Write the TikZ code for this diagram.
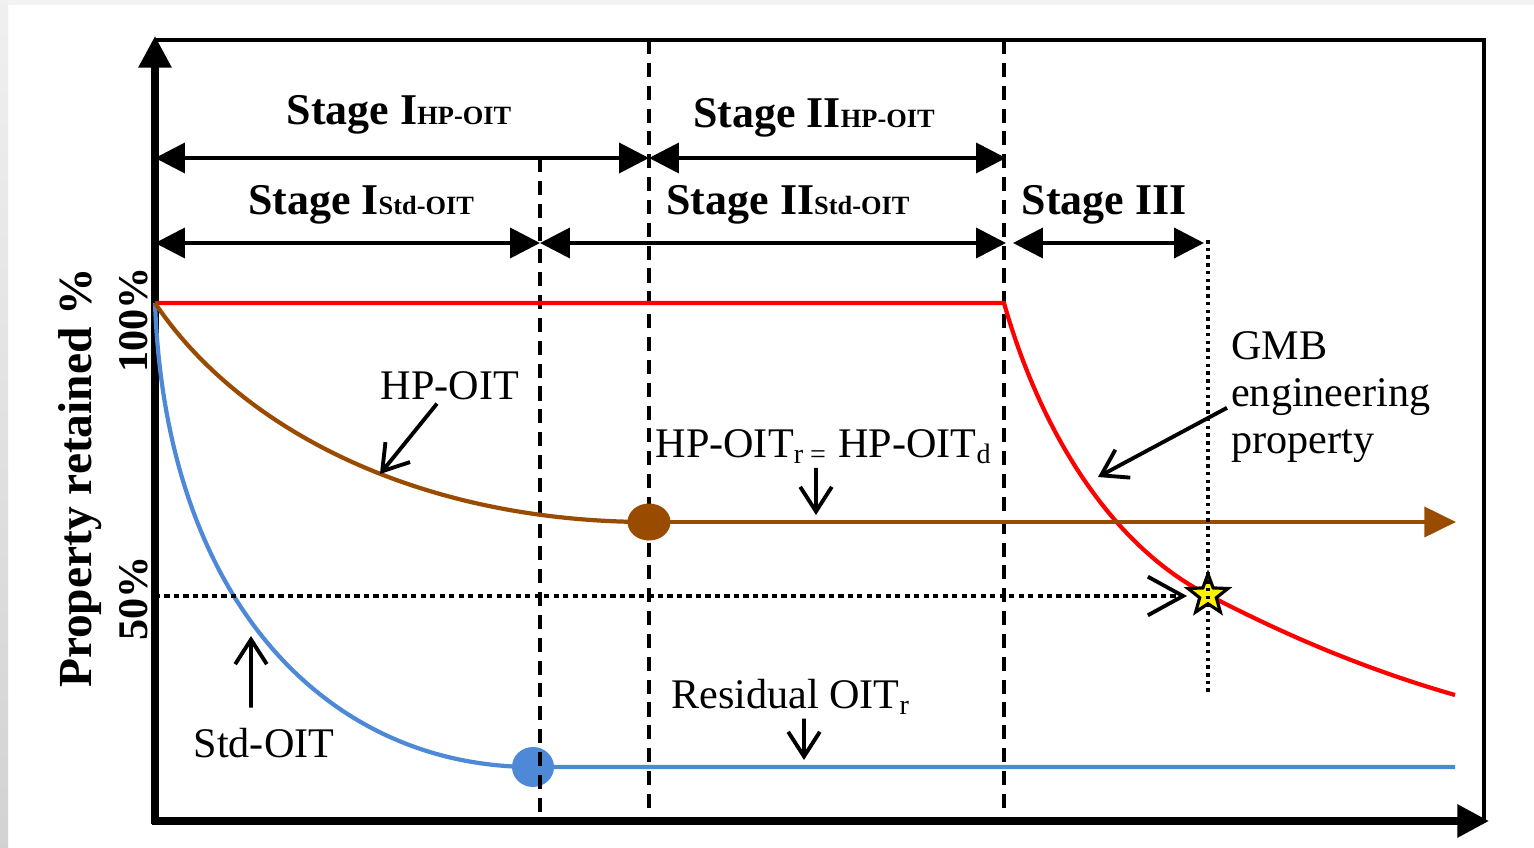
\documentclass[tikz,border=0pt]{standalone}
\usepackage{fontspec}
\setmainfont{Liberation Serif}
\usetikzlibrary{arrows.meta}
\usetikzlibrary{shapes.geometric}

\definecolor{hpbrown}{RGB}{153,76,0}
\definecolor{stdblue}{RGB}{77,137,214}
\definecolor{gmbred}{RGB}{255,0,0}

\newcommand{\subtag}[1]{{\fontsize{7.5}{8}\selectfont #1}}

\begin{document}
\begin{tikzpicture}[x=0.1mm,y=-0.1mm,
    stagelab/.style={font=\fontsize{12.5}{14}\selectfont\bfseries, inner sep=1pt, anchor=base},
    notelab/.style={font=\fontsize{12}{13.4}\selectfont, inner sep=1pt, anchor=base},
    ticklab/.style={rotate=90, anchor=base, inner sep=0pt},
    span/.style={<->, >={Triangle[length=8.5pt,width=8.5pt]}, line width=1.1pt},
    pointer/.style={->, >={Straight Barb[length=7pt,width=9pt]}, line width=1.1pt},
    stagesep/.style={dash pattern=on 4pt off 2.5pt, line width=0.9pt},
    guide/.style={dash pattern=on 1pt off 1.2pt, line width=0.9pt},
    curve/.style={line width=1.2pt},
  ]

    % white page, grey edge of the screenshot
    \useasboundingbox (0,0) rectangle (1534,848);
    \fill[white] (0,0) rectangle (1534,848);
    \shade[top color=gray!12, bottom color=gray!35] (0,0) rectangle (8,848);
    \fill[gray!10] (8,0) rectangle (1534,5);

    % key points
    \coordinate (orig) at (155,821);
    \coordinate (ytip) at (155,36);
    \coordinate (xtip) at (1489,821);
    \coordinate (start) at (155,303);
    \coordinate (hpdot) at (649,522);
    \coordinate (stddot) at (533,767);
    \coordinate (redknee) at (1004,303);
    \coordinate (gmbpt) at (1208,595);
    \coordinate (redend) at (1455,695);
    \coordinate (brownend) at (1456,522);
    \coordinate (blueend) at (1455,767);

    % frame and axes
    \draw[line width=1.4pt] (155,40) -- (1484,40) -- (1484,821);
    \draw[line width=2pt, -{Triangle[length=9pt,width=9pt]}] (155,824) -- (ytip);
    \draw[line width=2pt, -{Triangle[length=9pt,width=9pt]}] (152,821) -- (xtip);

    % Std-OIT
    \draw[stdblue, curve] (start) .. controls (166,605) and (330,767) .. (stddot) -- (blueend);
    \node[ellipse, fill=stdblue, minimum width=4.2mm, minimum height=4mm, inner sep=0pt] (stdmark) at (stddot) {};

    % stage boundaries
    \foreach \x in {649,1004}
        \draw[stagesep] (\x,40) -- (\x,821);
    \draw[stagesep] (540,158) -- (540,821);

    % engineering property
    \draw[gmbred, curve] (start) -- (redknee) .. controls (1040,430) and (1110,545) .. (gmbpt)
        .. controls (1255,619) and (1340,662) .. (redend);

    % HP-OIT
    \draw[hpbrown, curve] (start) .. controls (240,430) and (420,522) .. (hpdot);
    \draw[hpbrown, curve, -{Triangle[length=9pt,width=8.5pt]}] (hpdot) -- (brownend);
    \node[ellipse, fill=hpbrown, minimum width=4.3mm, minimum height=3.7mm, inner sep=0pt] (hpmark) at (hpdot) {};

    % 50% guide and GMB point
    \node[star, star points=5, star point ratio=2.4, draw, fill=yellow, line width=0.9pt,
          minimum size=4.2mm, inner sep=0pt] (gmbstar) at (gmbpt) {};
    \coordinate (fifty) at (155,596);
    \coordinate (gmbhead) at (1187,596);
    \draw[guide, dash pattern=on 1.5pt off 1.2pt, line width=1.1pt, ->, >={Straight Barb[length=10pt,width=11pt]}] (fifty) -- (gmbhead);
    \draw[guide] (1208,240) -- (1208,695);

    % stage spans
    \coordinate (hpA) at (155,158);
    \coordinate (hpB) at (649,158);
    \coordinate (hpC) at (1006,158);
    \coordinate (stdA) at (155,243);
    \coordinate (stdB) at (540,243);
    \coordinate (stdC) at (1006,243);
    \coordinate (thrA) at (1013,243);
    \coordinate (thrB) at (1204,243);
    \draw[span] (hpA) -- (hpB);
    \draw[span] (hpB) -- (hpC);
    \draw[span] (stdA) -- (stdB);
    \draw[span] (stdB) -- (stdC);
    \draw[span] (thrA) -- (thrB);

    % stage names
    \node[stagelab] (hpone) at (399,125) {Stage I\subtag{HP-OIT}};
    \node[stagelab] (hptwo) at (814,128) {Stage II\subtag{HP-OIT}};
    \node[stagelab] (stdone) at (361,215) {Stage I\subtag{Std-OIT}};
    \node[stagelab] (stdtwo) at (788,215) {Stage II\subtag{Std-OIT}};
    \node[stagelab] (three) at (1104,215) {Stage III};

    % y axis
    \node[ticklab, font=\fontsize{13.5}{15}\selectfont\bfseries] (ylab) at (92,478) {Property retained \%};
    \node[ticklab, font=\fontsize{12}{14}\selectfont\bfseries] (full) at (147,320) {100\%};
    \node[ticklab, font=\fontsize{12}{14}\selectfont\bfseries] (half) at (147,598) {50\%};

    % notes
    \node[notelab] (hplab) at (450,399) {HP-OIT};
    \node[notelab] (eqlab) at (824,457) {HP-OIT\textsubscript{r =} HP-OIT\textsubscript{d}};
    \node[notelab] (stdlab) at (264,757) {Std-OIT};
    \node[notelab] (reslab) at (791,708) {Residual OIT\textsubscript{r}};
    \node[notelab, anchor=north west, align=left] (gmblab) at (1227,327) {GMB\\engineering\\property};

    \coordinate (hptip) at (380,474);
    \coordinate (eqtip) at (816,515);
    \coordinate (stdtip) at (251,636);
    \coordinate (restip) at (804,760);
    \coordinate (gmbtip) at (1098,477);
    \draw[pointer] ([xshift=-1.3mm]hplab.south) -- (hptip);
    \draw[pointer] ([xshift=-0.8mm]eqlab.south) -- (eqtip);
    \draw[pointer] ([xshift=-1.3mm,yshift=1.6mm]stdlab.north) -- (stdtip);
    \draw[pointer] ([xshift=1.3mm]reslab.south) -- (restip);
    \draw[pointer] ([yshift=-1.1mm]gmblab.west) -- (gmbtip);
\end{tikzpicture}
\end{document}
